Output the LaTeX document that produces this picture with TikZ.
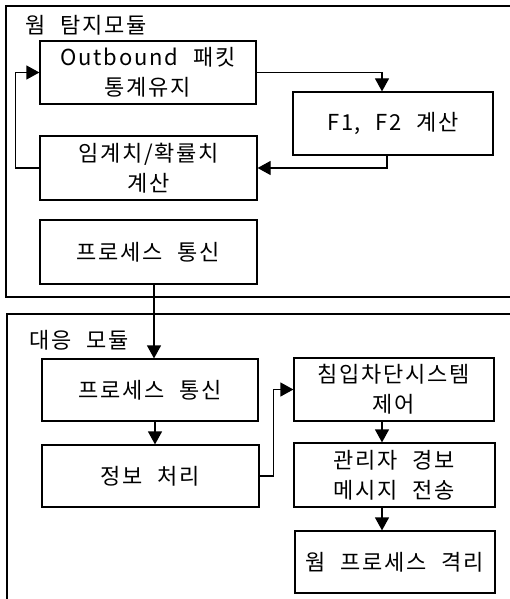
\documentclass[tikz,border=0pt]{standalone}
\usepackage{fontspec}
\setmainfont{Noto Sans CJK KR}[LetterSpace=8,WordSpace=2.2]
\usetikzlibrary{arrows.meta,calc}
\begin{document}
\begin{tikzpicture}[x=1pt,y=-1pt,
  box/.style={draw,line width=1.2pt,inner sep=0pt,align=center,
    font=\fontsize{22}{30}\selectfont},
  cont/.style={line width=1.3pt},
  arr/.style={line width=1.2pt,-{Triangle[length=13pt,width=14pt]}},
  ttl/.style={anchor=west,inner sep=0pt,font=\fontsize{22}{24}\selectfont}]
\useasboundingbox (0,0) rectangle (510,599);
% containers
\draw[cont] (510,6) -- (6,6) -- (6,297) -- (510,297);
\draw[cont] (510,314) -- (7,314) -- (7,599);
\node[ttl] (t1) at (25,25) {웜 탐지모듈};
\node[ttl] (t2) at (29,340) {대응 모듈};
% upper boxes
\node[box,minimum width=216,minimum height=63] (box1) at (148,72.5) {Outbound 패킷\\통계유지};
\node[box,minimum width=200,minimum height=63] (f12) at (393,123.5) {F1, F2 계산};
\node[box,minimum width=217,minimum height=64] (thr) at (148.5,168) {임계치/확률치\\계산};
\node[box,minimum width=217,minimum height=64] (pc1) at (148.5,252) {프로세스 통신};
% lower boxes
\node[box,minimum width=216,minimum height=62] (pc2) at (150,390) {프로세스 통신};
\node[box,minimum width=217,minimum height=62] (info) at (150.5,476) {정보 처리};
\node[box,minimum width=200,minimum height=63] (ids) at (394,389.5) {침입차단시스템\\제어};
\node[box,minimum width=201,minimum height=64] (adm) at (394.5,475) {관리자 경보\\메시지 전송};
\node[box,minimum width=200,minimum height=62] (iso) at (395,562) {웜 프로세스 격리};
% connectors
\draw[arr] (box1.east) -| ($(f12.north)+(-11,0)$);
\draw[arr] ($(f12.south)+(-6,0)$) |- (thr.east);
\draw[arr] (thr.west) -- ++(-24,0) |- (box1.west);
\coordinate (a) at ($(pc1.south)+(5.5,0)$);
\draw[arr] (a) -- (a |- pc2.north);
\coordinate (b) at ($(pc2.south)+(5,0)$);
\draw[arr] (b) -- (b |- info.north);
\draw[arr] (info.east) -- ++(14,0) |- (ids.west);
\coordinate (c) at ($(ids.south)+(-12,0)$);
\draw[arr] (c) -- (c |- adm.north);
\coordinate (d) at ($(adm.south)+(-12.5,0)$);
\draw[arr] (d) -- (d |- iso.north);
\end{tikzpicture}
\end{document}
